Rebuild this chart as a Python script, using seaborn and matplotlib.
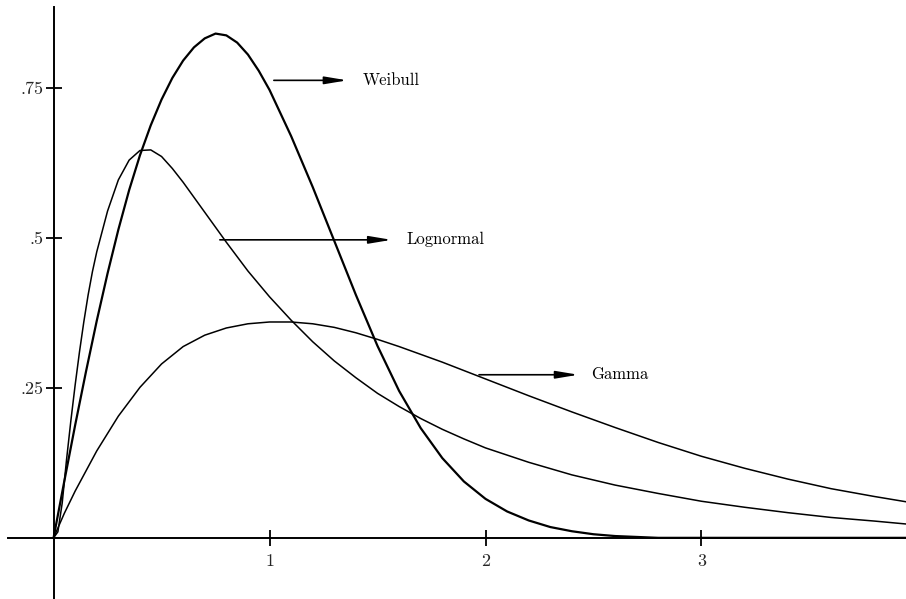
import numpy as np
import pandas as pd
import matplotlib
matplotlib.use("Agg")
import matplotlib.pyplot as plt
import seaborn as sns

weibull_x = [0, 0.05, 0.1, 0.15, 0.2, 0.25, 0.3, 0.35, 0.4, 0.45, 0.5, 0.55, 0.6, 0.65,
             0.7, 0.75, 0.8, 0.85, 0.9, 0.95, 1.0, 1.1, 1.2, 1.3, 1.4, 1.5, 1.6, 1.7,
             1.8, 1.9, 2.0, 2.1, 2.2, 2.3, 2.4, 2.5, 2.6, 2.8, 3.0, 3.5, 3.95]
weibull_y = [0, 0.095, 0.188, 0.277, 0.362, 0.441, 0.514, 0.580, 0.638, 0.688, 0.731,
             0.767, 0.796, 0.818, 0.833, 0.841, 0.838, 0.826, 0.806, 0.779, 0.747,
             0.670, 0.585, 0.495, 0.405, 0.320, 0.245, 0.183, 0.133, 0.094, 0.065,
             0.044, 0.029, 0.018, 0.011, 0.006, 0.003, 0.0, 0.0, 0.0, 0.0]

lognormal_x = [0, 0.02, 0.04, 0.06, 0.08, 0.1, 0.12, 0.14, 0.16, 0.18, 0.2, 0.25, 0.3,
               0.35, 0.4, 0.45, 0.5, 0.55, 0.6, 0.7, 0.8, 0.9, 1.0, 1.1, 1.2, 1.3,
               1.4, 1.5, 1.6, 1.7, 1.8, 1.9, 2.0, 2.2, 2.4, 2.6, 2.8, 3.0, 3.2, 3.4,
               3.6, 3.8, 3.95]
lognormal_y = [0, 0.010, 0.058, 0.130, 0.195, 0.255, 0.310, 0.360, 0.405, 0.444, 0.477,
               0.545, 0.597, 0.630, 0.646, 0.647, 0.636, 0.616, 0.593, 0.543, 0.493,
               0.445, 0.402, 0.363, 0.327, 0.295, 0.267, 0.241, 0.219, 0.199, 0.181,
               0.165, 0.150, 0.126, 0.105, 0.088, 0.074, 0.061, 0.051, 0.042, 0.034,
               0.028, 0.023]

gamma_x = [0, 0.05, 0.1, 0.2, 0.3, 0.4, 0.5, 0.6, 0.7, 0.8, 0.9, 1.0, 1.1, 1.2, 1.3,
           1.4, 1.5, 1.6, 1.7, 1.8, 1.9, 2.0, 2.2, 2.4, 2.6, 2.8, 3.0, 3.2, 3.4, 3.6,
           3.8, 3.95]
gamma_y = [0, 0.041, 0.078, 0.145, 0.203, 0.251, 0.290, 0.319, 0.338, 0.350, 0.357,
           0.360, 0.360, 0.357, 0.351, 0.342, 0.331, 0.319, 0.306, 0.293, 0.279,
           0.265, 0.237, 0.210, 0.184, 0.159, 0.136, 0.116, 0.098, 0.082, 0.069,
           0.060]

y_ticks = [0.25, 0.5, 0.75]
y_labels = [".25", ".5", ".75"]
x_ticks = [1, 2, 3]
x_labels = ["1", "2", "3"]

# etiquetas con flecha: (texto, y, inicio flecha, fin flecha, x texto)
etiquetas = [
    ("Weibull", 0.763, 1.02, 1.36, 1.43),
    ("Lognormal", 0.497, 0.77, 1.565, 1.635),
    ("Gamma", 0.272, 1.97, 2.43, 2.49),
]

curvas = pd.concat([
    pd.DataFrame({"x": weibull_x, "y": weibull_y, "dist": "Weibull"}),
    pd.DataFrame({"x": lognormal_x, "y": lognormal_y, "dist": "Lognormal"}),
    pd.DataFrame({"x": gamma_x, "y": gamma_y, "dist": "Gamma"}),
], ignore_index=True)
grosor = {"Weibull": 1.6, "Lognormal": 1.1, "Gamma": 1.1}

sns.set_theme(style="white")
plt.rcParams['font.family'] = ['cmr10', 'DejaVu Serif']
plt.rcParams['axes.formatter.use_mathtext'] = True
plt.rcParams['lines.solid_joinstyle'] = 'round'

fig = plt.figure(figsize=(9.06, 5.99), dpi=100)
ax = fig.add_axes([0, 0, 1, 1])

for nombre, sub in curvas.groupby("dist", sort=False):
    sns.lineplot(data=sub, x="x", y="y", color="black", linewidth=grosor[nombre],
                 sort=False, ax=ax)

ax.set_xlim(-0.248, 3.947)
ax.set_ylim(-0.102, 0.897)

# ejes cruzando en el origen
for side in ["top", "right"]:
    ax.spines[side].set_visible(False)
ax.spines["left"].set_position(("data", 0))
ax.spines["bottom"].set_position(("data", 0))
ax.spines["left"].set_bounds(-0.102, 0.885)
ax.spines["bottom"].set_bounds(-0.21, 3.947)
for side in ["left", "bottom"]:
    ax.spines[side].set_color("black")
    ax.spines[side].set_linewidth(1.4)

ax.set_xticks(x_ticks)
ax.set_xticklabels(x_labels)
ax.set_yticks(y_ticks)
ax.set_yticklabels(y_labels)
ax.tick_params(axis="both", direction="inout", length=11, width=1.3, color="black",
               labelsize=13, left=True, bottom=True)
ax.tick_params(axis="x", pad=6)
ax.tick_params(axis="y", pad=2)
ax.set_xlabel("")
ax.set_ylabel("")
ax.grid(False)

for texto, y, x0, x1, xt in etiquetas:
    ax.annotate("", xy=(x1, y), xytext=(x0, y),
                arrowprops=dict(arrowstyle="-|>,head_length=0.9,head_width=0.15",
                                color="black", lw=1.2, mutation_scale=15,
                                shrinkA=0, shrinkB=0))
    ax.text(xt, y, texto, ha="left", va="center", fontsize=12, color="black")

fig.savefig("out.png", dpi=100)
